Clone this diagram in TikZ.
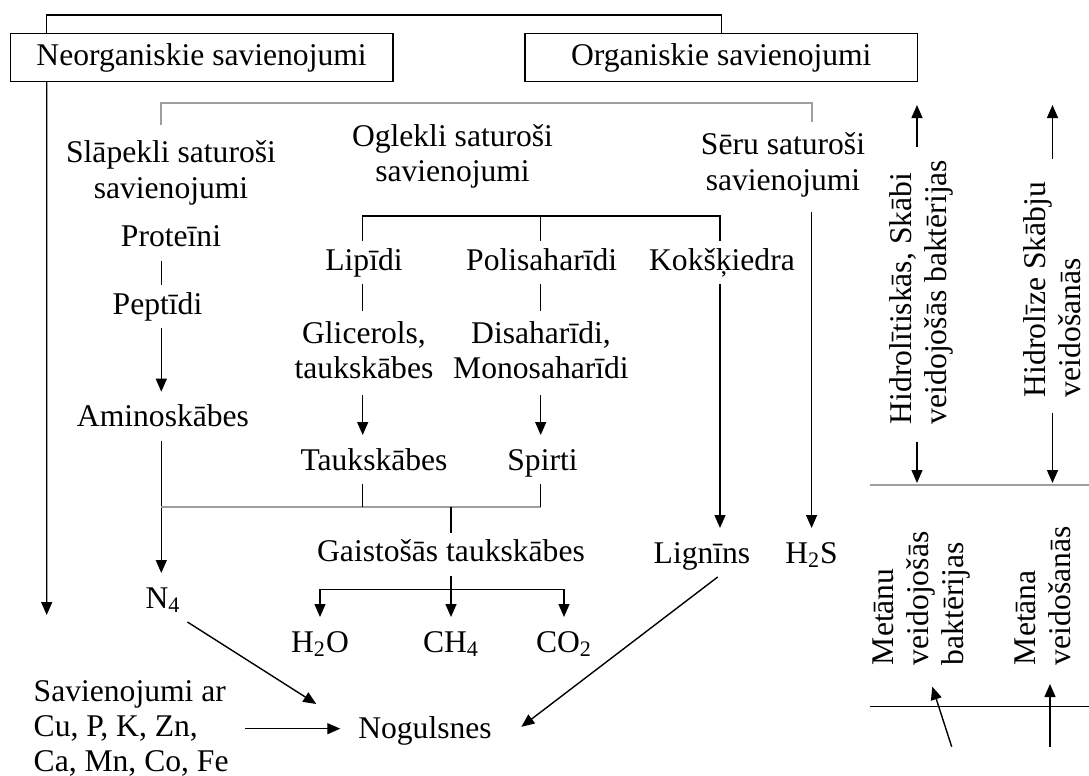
\documentclass[tikz,border=0pt]{standalone}
\usepackage{fontspec}
\setmainfont{Liberation Serif}
\usetikzlibrary{arrows.meta}
\definecolor{flowgrey}{gray}{0.62}
\tikzset{
  flowline/.style={line width=0.7pt, draw=black},
  flowgrayline/.style={line width=1pt, draw=flowgrey},
  flowarrow/.style={flowline, -{Triangle[length=6.5pt,width=5.5pt]},
    shorten >=3pt},
  flowtext/.style={font=\fontsize{15.8}{17.5}\selectfont, inner sep=0pt,
    outer sep=3.5pt, text height=11pt, text depth=3.5pt},
  flowmulti/.style={font=\fontsize{15.8}{17.5}\selectfont, inner sep=0pt,
    outer sep=3.5pt, align=center},
  flowturn/.style={font=\fontsize{15.8}{17.5}\selectfont, inner sep=0pt,
    outer sep=0pt, align=left, rotate=90, anchor=south west},
  flowbox/.style={draw=black, line width=0.7pt, fill=white,
    font=\fontsize{15.8}{17.5}\selectfont, minimum height=24.2pt,
    inner sep=0pt, outer sep=0pt}
}

\begin{document}
\begin{tikzpicture}[x=0.5pt,y=-0.5pt]
  \useasboundingbox (0,0) rectangle (1089,776);

  % columns of the vertical connectors
  \coordinate (c1) at (161.3,0);
  \coordinate (c2) at (362.7,0);
  \coordinate (c3) at (540.7,0);
  \coordinate (c4) at (720,0);
  \coordinate (c5) at (811.6,0);

  \node[flowbox, minimum width=191.2pt] (inorg) at (201.6,57.5)
    {Neorganiskie savienojumi};
  \node[flowbox, minimum width=196.3pt] (org) at (721.3,57.5)
    {Organiskie savienojumi};

  % multi-line nodes: base is the last line
  \node[flowmulti, anchor=base] (nitro) at (171,198)
    {Slāpekli saturoši\\savienojumi};
  \node[flowmulti, anchor=base] (carbon) at (452.5,181.7)
    {Oglekli saturoši\\savienojumi};
  \node[flowmulti, anchor=base] (sulfur) at (783,190)
    {Sēru saturoši\\savienojumi};

  \node[flowtext, anchor=base] (prot) at (171,246.7) {Proteīni};
  \node[flowtext, anchor=base] (pept) at (157.5,314) {Peptīdi};
  \node[flowtext, anchor=base] (amino) at (163,426.7) {Aminoskābes};
  \node[flowtext, anchor=base] (ntf) at (163,608) {N\textsubscript{4}};

  \node[flowtext, anchor=base] (lip) at (364,270) {Lipīdi};
  \node[flowtext, anchor=base] (poly) at (541.7,270) {Polisaharīdi};
  \node[flowtext, anchor=base] (kok) at (722,270) {Kokšķiedra};
  \node[flowmulti, anchor=base] (glyc) at (364,378.3)
    {Glicerols,\\taukskābes};
  \node[flowmulti, anchor=base] (disac) at (541,378.3)
    {Disaharīdi,\\Monosaharīdi};
  \node[flowtext, anchor=base] (fatty) at (374,470) {Taukskābes};
  \node[flowtext, anchor=base] (alco) at (542.5,470) {Spirti};
  \node[flowtext, anchor=base] (volat) at (451,561.7)
    {Gaistošās taukskābes};
  \node[flowtext, anchor=base] (lign) at (702,563) {Lignīns};
  \node[flowtext, anchor=base] (hs) at (811.5,563) {H\textsubscript{2}S};
  \node[flowtext, anchor=base] (water) at (320,652) {H\textsubscript{2}O};
  \node[flowtext, anchor=base] (meth) at (451,652) {CH\textsubscript{4}};
  \node[flowtext, anchor=base] (carb) at (564,652) {CO\textsubscript{2}};

  \node[flowmulti, align=left, anchor=base west] (metal) at (26.7,771.7)
    {Savienojumi ar\\Cu, P, K, Zn,\\Ca, Mn, Co, Fe};
  \node[flowtext, anchor=base] (sedim) at (425,738.3) {Nogulsnes};

  % stages on the right
  \node[flowturn] (hydro) at (953,424)
    {Hidrolītiskās, Skābi\\veidojošās baktērijas};
  \node[flowturn] (hydrol) at (1081,397) {Hidrolīze Skābju\\veidošanās};
  \node[flowturn] (methb) at (970,665) {Metānu\\veidojošās\\baktērijas};
  \node[flowturn] (metha) at (1071,665) {Metāna\\veidošanās};

  \coordinate (inorgend) at (46.7,615);
  \coordinate (gbar) at (480,103.3);
  \coordinate (obar) at (540.7,216);
  \coordinate (mbar) at (451,506.7);
  \coordinate (vbar) at (451,589.3);
  \coordinate (up1) at (917,105);
  \coordinate (up2) at (1052.5,105);
  \coordinate (dn1) at (917,483);
  \coordinate (dn2) at (1052.5,483);
  \coordinate (in1) at (951.7,746.7);
  \coordinate (in2) at (1050,746.7);

  \draw[flowline] ([xshift=18.15pt]inorg.north west) -- ++(0,-18.3)
    -| (org.north);
  \draw[flowarrow, shorten >=0pt] ([xshift=18.15pt]inorg.south west)
    -- (inorgend);
  \draw[flowgrayline] ([yshift=4.7pt]nitro.north -| c1) |- (gbar)
    -| ([yshift=1.9pt]sulfur.north -| c5);

  \draw[flowline] (prot.south -| c1) -- (pept.north -| c1);
  \draw[flowarrow] (pept.south -| c1) -- (amino.north -| c1);
  \draw[flowarrow] (amino.south -| c1) -- (ntf.north -| c1);

  \draw[flowline] (lip.north -| c2) |- (obar) -| (kok.north -| c4);
  \draw[flowline] (obar) -- (poly.north -| c3);
  \draw[flowline] (lip.south -| c2) -- ([yshift=1.85pt]glyc.north -| c2);
  \draw[flowarrow] ([yshift=-4.85pt]glyc.south -| c2)
    -- (fatty.north -| c2);
  \draw[flowline] (poly.south -| c3) -- ([yshift=1.85pt]disac.north -| c3);
  \draw[flowarrow] ([yshift=-4.85pt]disac.south -| c3)
    -- (alco.north -| c3);

  \draw[flowgrayline] (c1 |- mbar) -- (c3 |- mbar);
  \draw[flowline] (fatty.south -| c2) -- (c2 |- mbar);
  \draw[flowline] (alco.south -| c3) -- (c3 |- mbar);
  \draw[flowline] (mbar) -- (volat.north);
  \draw[flowline] (volat.south) -- (vbar);
  \draw[flowarrow] (vbar) -| (water.north);
  \draw[flowarrow] (vbar) -- (meth.north);
  \draw[flowarrow] (vbar) -| (carb.north);

  \draw[flowarrow] (kok.south -| c4) -- (lign.north -| c4);
  \draw[flowarrow] ([yshift=-3.9pt]sulfur.south -| c5) -- (hs.north -| c5);

  \draw[flowarrow, shorten >=0pt] (ntf.south east)
    -- ([xshift=-17.5pt,yshift=2.65pt]sedim.north west);
  \draw[flowarrow, shorten >=0pt] ([xshift=7.85pt]lign.south)
    -- ([xshift=11.35pt,yshift=2pt]sedim.east);
  \draw[flowarrow, shorten <=4.6pt, shorten >=5.5pt] (metal.east)
    -- (sedim.west |- metal.east);

  % right column
  \draw[flowgrayline] (870,485) -- (1089,485);
  \draw[flowline] (870,706.7) -- (1089,706.7);
  \draw[flowarrow, shorten >=0pt] ([yshift=6.65pt]hydro.east -| up1) -- (up1);
  \draw[flowarrow, shorten >=0pt] ([yshift=11.5pt]hydrol.east -| up2) -- (up2);
  \draw[flowarrow, shorten >=0pt] ([yshift=-8.85pt]hydro.west -| dn1) -- (dn1);
  \draw[flowarrow, shorten >=0pt] ([yshift=-8.15pt]hydrol.west -| dn2) -- (dn2);
  \draw[flowarrow, shorten >=0pt] (in1)
    -- ([xshift=5.5pt,yshift=-10.85pt]methb.west);
  \draw[flowarrow, shorten >=0pt] (in2) -- ([yshift=-9.5pt]metha.west -| in2);
\end{tikzpicture}
\end{document}
